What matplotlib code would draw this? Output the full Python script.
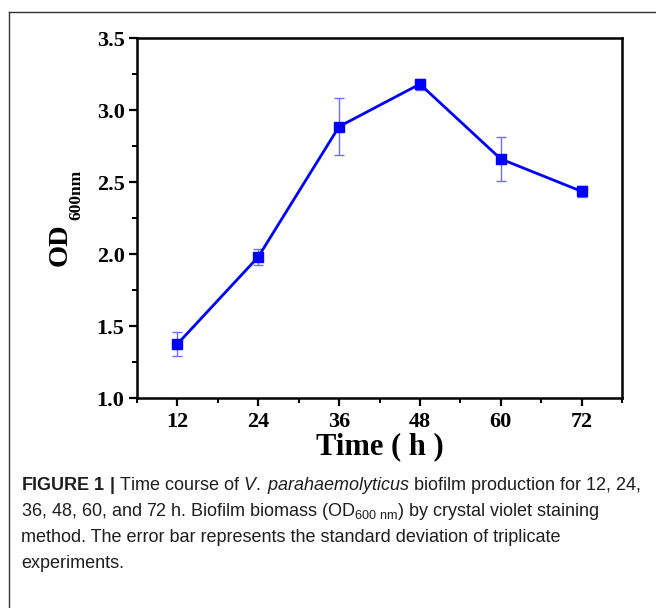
import matplotlib
matplotlib.use("Agg")
import matplotlib.pyplot as plt
from matplotlib.lines import Line2D
from matplotlib.ticker import MultipleLocator

plt.rcParams['mathtext.fontset'] = 'custom'
plt.rcParams['mathtext.rm'] = 'Liberation Sans'
plt.rcParams['mathtext.it'] = 'Liberation Sans:italic'
plt.rcParams['mathtext.sf'] = 'Liberation Sans:bold'
plt.rcParams['mathtext.bf'] = 'Liberation Serif:bold'

# Data
time_h = [12, 24, 36, 48, 60, 72]
od600 = [1.375, 1.98, 2.885, 3.18, 2.66, 2.435]
od_sd = [0.085, 0.058, 0.20, 0.038, 0.15, 0.04]
x_ticks = [12, 24, 36, 48, 60, 72]
y_ticks = [1.0, 1.5, 2.0, 2.5, 3.0, 3.5]

W, H = 656, 608
fig = plt.figure(figsize=(W / 100, H / 100), dpi=100)

ax = fig.add_axes([137 / W, 1 - 398 / H, (622 - 137) / W, (398 - 38) / H])
ax.errorbar(time_h, od600, yerr=od_sd, fmt='none', ecolor='#6f6fff',
            elinewidth=1.0, capsize=3.5, capthick=1.0, zorder=2)
ax.plot(time_h, od600, color='#0000ff', lw=2.0, marker='s', ms=7.5,
        markerfacecolor='#0000ff', markeredgecolor='#0000ff', zorder=3)

ax.set_xlim(6, 78)
ax.set_ylim(1.0, 3.5)
ax.set_xticks(x_ticks)
ax.set_yticks(y_ticks)
ax.set_yticklabels([f"{v:.1f}" for v in y_ticks])
ax.xaxis.set_minor_locator(MultipleLocator(6))
ax.yaxis.set_minor_locator(MultipleLocator(0.25))
for s in ax.spines.values():
    s.set_linewidth(1.8)
ax.tick_params(which='major', direction='out', length=6, width=1.6,
               top=False, right=False)
ax.tick_params(which='minor', direction='out', length=3.5, width=1.4,
               top=False, right=False)
for lab in ax.get_xticklabels() + ax.get_yticklabels():
    lab.set_fontfamily('Liberation Serif')
    lab.set_fontweight('bold')
    lab.set_fontsize(16)
ax.tick_params(axis='x', pad=4)
ax.tick_params(axis='y', pad=3)

ax.set_xlabel('Time ( h )', fontfamily='Liberation Serif', fontweight='bold',
              fontsize=22, labelpad=0)

# Y label: "OD" with subscript "600nm"
fig.text(60 / W, 1 - 266 / H, 'OD', rotation=90, fontfamily='Liberation Serif',
         fontweight='bold', fontsize=20.5, ha='center', va='bottom')
fig.text(76 / W, 1 - 220 / H, '600nm', rotation=90, fontfamily='Liberation Serif',
         fontweight='bold', fontsize=12.5, ha='center', va='bottom')

# Frame around figure (cut off at right and bottom)
fig.add_artist(Line2D([8.5 / W, 1.0], [1 - 12 / H, 1 - 12 / H],
                      transform=fig.transFigure, color='#333333', lw=1.0))
fig.add_artist(Line2D([8.5 / W, 8.5 / W], [1 - 12 / H, 0.0],
                      transform=fig.transFigure, color='#333333', lw=1.0))

# Caption
cap_lines = [
    r'$\mathsf{FIGURE\ 1\ |}$ Time course of $\mathit{V.\;parahaemolyticus}$ biofilm production for 12, 24,',
    r'36, 48, 60, and 72 h. Biofilm biomass (OD${}_{600\ \mathrm{nm}}$) by crystal violet staining',
    r'method. The error bar represents the standard deviation of triplicate',
    r'experiments.',
]
for i, t in enumerate(cap_lines):
    fig.text(21 / W, 1 - (485 + 26 * i) / H, t, fontfamily='Liberation Sans',
             fontsize=13, color='#1e1e1e', va='center', ha='left')

fig.savefig('out.png', dpi=100)
